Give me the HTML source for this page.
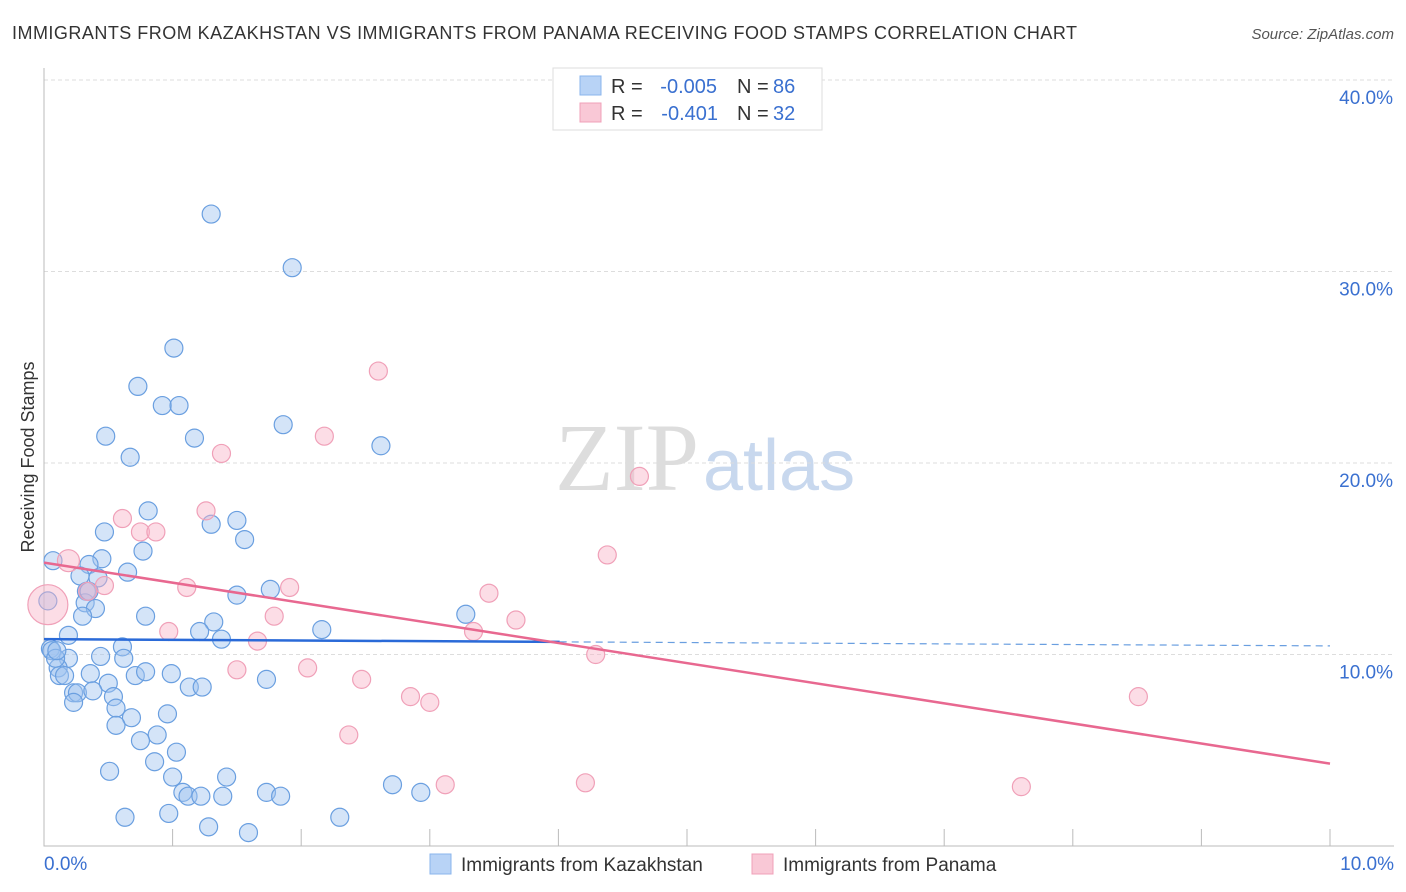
<!DOCTYPE html>
<html><head><meta charset="utf-8"><style>
body{margin:0;background:#fff;font-family:"Liberation Sans",sans-serif}
svg{display:block}
</style></head><body>
<svg id="chart" width="1406" height="892" viewBox="0 0 1406 892" xmlns="http://www.w3.org/2000/svg">
<text x="12" y="39" font-size="18" fill="#333" textLength="1065" lengthAdjust="spacing">IMMIGRANTS FROM KAZAKHSTAN VS IMMIGRANTS FROM PANAMA RECEIVING FOOD STAMPS CORRELATION CHART</text>
<text x="1394" y="39" font-size="15" fill="#555" text-anchor="end" font-style="italic">Source: ZipAtlas.com</text>
<text x="555" y="490" font-size="96" fill="#ddd" font-family="Liberation Serif,serif">ZIP<tspan fill="#c8d8ee" font-family="Liberation Sans,sans-serif" font-size="72" dx="4">atlas</tspan></text>
<g id="grid"></g>
<g id="axes"></g>
<g id="marks"></g>
<text transform="translate(34,457) rotate(-90)" font-size="18" fill="#333" text-anchor="middle">Receiving Food Stamps</text>
<g font-size="20">
<rect x="553" y="68" width="269" height="62" fill="#fff" stroke="#ddd"/>
<rect x="580" y="76" width="21" height="19" fill="#b8d3f6" stroke="#8ab4ec"/>
<rect x="580" y="103" width="21" height="19" fill="#f9c8d6" stroke="#f0a0b8"/>
<text x="611" y="93" fill="#333">R =</text>
<text x="717" y="93" fill="#3a70d0" text-anchor="end">-0.005</text>
<text x="737" y="93" fill="#333">N =</text>
<text x="773" y="93" fill="#3a70d0">86</text>
<text x="611" y="120" fill="#333">R =</text>
<text x="718" y="120" fill="#3a70d0" text-anchor="end">-0.401</text>
<text x="737" y="120" fill="#333">N =</text>
<text x="773" y="120" fill="#3a70d0">32</text>
</g>
<g>
<rect x="430" y="854" width="21" height="20" fill="#b8d3f6" stroke="#8ab4ec"/>
<text x="461" y="871" font-size="19" fill="#333">Immigrants from Kazakhstan</text>
<rect x="752" y="854" width="21" height="20" fill="#f9c8d6" stroke="#f0a0b8"/>
<text x="783" y="871" font-size="19" fill="#333">Immigrants from Panama</text>
</g>
</svg>
<script>
const yTicks=[10,20,30,40];
const yTickLabels=["10.0%","20.0%","30.0%","40.0%"];
const xTickLabels=["0.0%","10.0%"];
const kazX=[1.30,1.93,1.01,0.73,0.92,1.05,0.48,1.17,1.86,2.62,0.67,0.81,1.50,1.30,0.47,1.56,0.77,0.07,0.45,0.35,0.28,0.42,0.65,0.33,0.32,0.40,0.30,1.76,1.50,0.79,1.32,1.21,3.28,2.16,0.19,1.38,0.61,0.05,0.06,0.19,0.62,0.44,0.11,0.12,0.16,0.36,0.71,0.79,0.99,0.50,1.13,1.23,1.73,0.23,0.26,0.38,0.54,0.23,0.56,0.68,0.96,0.56,0.88,0.75,1.03,0.86,0.51,1.00,1.42,1.08,1.12,1.22,1.39,1.73,1.84,2.71,2.93,0.63,0.97,1.28,1.59,2.30,0.03,0.09,0.35,0.10];
const kazY=[33.0,30.2,26.0,24.0,23.0,23.0,21.4,21.3,22.0,20.9,20.3,17.5,17.0,16.8,16.4,16.0,15.4,14.9,15.0,14.7,14.1,14.0,14.3,13.3,12.7,12.4,12.0,13.4,13.1,12.0,11.7,11.2,12.1,11.3,11.0,10.8,10.4,10.3,10.2,9.8,9.8,9.9,9.3,8.9,8.9,9.0,8.9,9.1,9.0,8.5,8.3,8.3,8.7,8.0,8.0,8.1,7.8,7.5,7.2,6.7,6.9,6.3,5.8,5.5,4.9,4.4,3.9,3.6,3.6,2.8,2.6,2.6,2.6,2.8,2.6,3.2,2.8,1.5,1.7,1.0,0.7,1.5,12.8,9.8,13.3,10.2];
const panX=[0.19,0.03,0.61,0.75,0.87,1.26,1.38,2.18,2.60,4.63,4.38,1.91,1.11,0.47,0.34,0.97,1.79,1.66,3.46,3.67,3.34,4.29,1.50,2.05,2.47,2.85,3.00,2.37,3.12,4.21,7.60,8.51];
const panY=[14.9,12.6,17.1,16.4,16.4,17.5,20.5,21.4,24.8,19.3,15.2,13.5,13.5,13.6,13.3,11.2,12.0,10.7,13.2,11.8,11.2,10.0,9.2,9.3,8.7,7.8,7.5,5.8,3.2,3.3,3.1,7.8];
const panR=[11,20,9,9,9,9,9,9,9,9,9,9,9,9,9,9,9,9,9,9,9,9,9,9,9,9,9,9,9,9,9,9];
const kazTrend=[10.8,10.45];
const panTrend=[14.8,4.3];
const NS="http://www.w3.org/2000/svg";
const x=v=>44+v*128.6;
const y=v=>846-v*19.15;
function mk(t,a,p){const e=document.createElementNS(NS,t);for(const k in a)e.setAttribute(k,a[k]);p.appendChild(e);return e;}
const grid=document.getElementById('grid'),axes=document.getElementById('axes'),marks=document.getElementById('marks');
yTicks.forEach((t,i)=>{
 const l=mk('line',{x1:44,x2:1394,y1:y(t),y2:y(t),stroke:'#ddd','stroke-dasharray':'4,3'},grid);
 
 
 const tx=mk('text',{x:1393,y:y(t)+24,'font-size':19,fill:'#3a70d0','text-anchor':'end'},axes);
 tx.textContent=yTickLabels[i];
 
 
});
const ax=mk('path',{d:'M44,68V846H1394',stroke:'#bbb',fill:'none'},axes);


for(let i=0;i<=10;i++){
 const tk=mk('line',{x1:x(i),x2:x(i),y1:829,y2:846,stroke:'#bbb'},axes);
 
 
}
[[0,'start',44],[10,'end',1394]].forEach((d,i)=>{
 const t=mk('text',{x:d[2],y:870,'font-size':19,fill:'#3a70d0','text-anchor':d[1]},axes);
 t.textContent=xTickLabels[i];
 
 
});
kazX.forEach((v,i)=>{
 const c=mk('circle',{cx:x(v),cy:y(kazY[i]),r:9,fill:'rgba(160,196,240,0.45)',stroke:'#6a9fe0','stroke-width':1.2},marks);
 
 
});
panX.forEach((v,i)=>{
 const c=mk('circle',{cx:x(v),cy:y(panY[i]),r:panR[i],fill:'rgba(248,180,200,0.45)',stroke:'#f0a0b8','stroke-width':1.2},marks);
 
 
});
const kAt=v=>kazTrend[0]+(kazTrend[1]-kazTrend[0])*v/10;
const t1=mk('line',{x1:x(0),y1:y(kAt(0)),x2:x(4.01),y2:y(kAt(4.01)),stroke:'#2a6ad8','stroke-width':2.5},marks);


const t2=mk('line',{x1:x(4.01),y1:y(kAt(4.01)),x2:x(10),y2:y(kAt(10)),stroke:'#6a9fe0','stroke-width':1.2,'stroke-dasharray':'7,5'},marks);


const t3=mk('line',{x1:x(0),y1:y(panTrend[0]),x2:x(10),y2:y(panTrend[1]),stroke:'#e86890','stroke-width':2.5},marks);


</script>
</body></html>
